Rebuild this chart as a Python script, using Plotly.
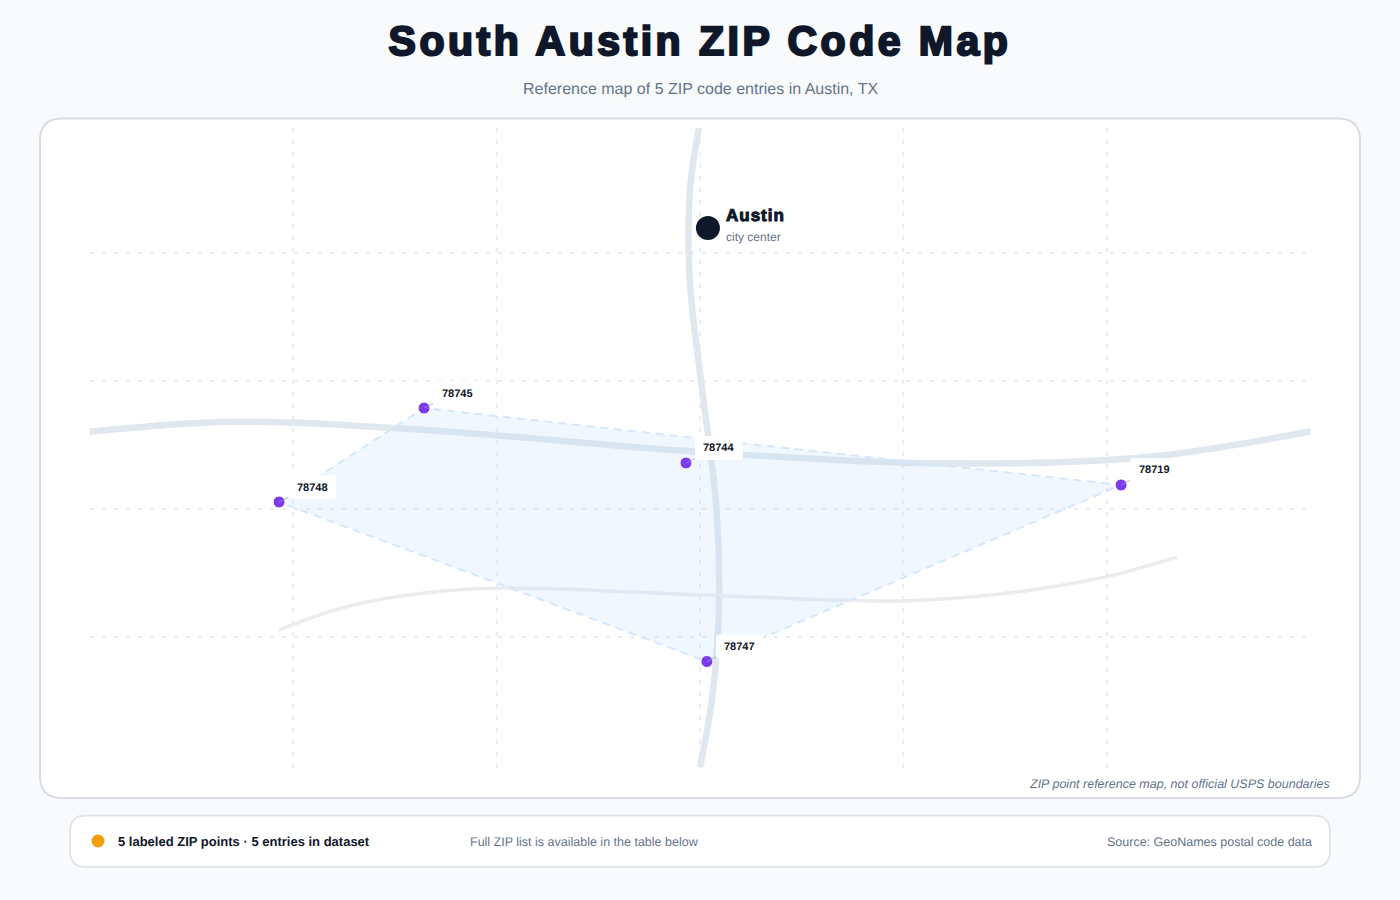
import plotly.graph_objects as go

W, H = 1400, 900

# Data, in map grid units (one unit per graticule cell)
zip_codes = ["78745", "78744", "78748", "78719", "78747"]
zip_x = [1.643, 2.931, 0.930, 5.071, 3.034]
zip_y = [2.188, 2.617, 2.922, 2.789, 4.168]

hull_order = ["78748", "78745", "78719", "78747", "78748"]

city_name = ["Austin"]
city_x = [3.039]
city_y = [0.781]

road_ns_x = [2.995, 2.950, 2.950, 3.015, 3.080, 3.093, 3.060, 3.000]
road_ns_y = [0.000, 0.500, 1.200, 2.100, 2.950, 3.750, 4.450, 4.992]

road_ew_x = [-0.010, 0.700, 1.643, 3.000, 4.200, 5.200, 6.010]
road_ew_y = [2.375, 2.295, 2.359, 2.531, 2.620, 2.570, 2.367]

road_s_x = [0.930, 1.300, 1.900, 3.000, 3.984, 4.476, 4.968, 5.346]
road_s_y = [3.922, 3.725, 3.600, 3.648, 3.695, 3.641, 3.516, 3.352]

grid_x = [1, 2, 3, 4, 5]
grid_y = [0.977, 1.977, 2.977, 3.977]

INK = "#0f172a"
MUTED = "#64748b"
FONT = "Liberation Sans, Arial, sans-serif"
PX, PY = lambda v: v / W, lambda v: 1 - v / H


def round_rect(x0, y0, x1, y1, r):
    """Rounded rectangle path in paper fractions, from page pixels."""
    pts = [("M", x0 + r, y0), ("L", x1 - r, y0), ("Q", x1, y0, x1, y0 + r), ("L", x1, y1 - r),
           ("Q", x1, y1, x1 - r, y1), ("L", x0 + r, y1), ("Q", x0, y1, x0, y1 - r),
           ("L", x0, y0 + r), ("Q", x0, y0, x0 + r, y0)]
    out = ""
    for p in pts:
        coords = p[1:]
        vals = [f"{PX(coords[i])},{PY(coords[i + 1])}" for i in range(0, len(coords), 2)]
        out += p[0] + " ".join(vals)
    return out + "Z"


fig = go.Figure()

lookup = dict(zip(zip_codes, zip(zip_x, zip_y)))
fig.add_trace(go.Scatter(x=road_ns_x, y=road_ns_y, mode="lines", cliponaxis=False, hoverinfo="skip",
                         line=dict(color="#e1e7ee", width=6.5, shape="spline"), name="North-south road"))
fig.add_trace(go.Scatter(x=road_ew_x, y=road_ew_y, mode="lines", cliponaxis=False, hoverinfo="skip",
                         line=dict(color="#e1e7ee", width=6.5, shape="spline"), name="East-west road"))
fig.add_trace(go.Scatter(x=road_s_x, y=road_s_y, mode="lines", cliponaxis=False, hoverinfo="skip",
                         line=dict(color="#ebecee", width=3.5, shape="spline"), name="Southern road"))
fig.add_trace(go.Scatter(x=[lookup[z][0] for z in hull_order], y=[lookup[z][1] for z in hull_order],
                         mode="lines", fill="toself", fillcolor="rgba(191,219,254,0.22)", hoverinfo="skip",
                         line=dict(color="#d6e7fd", width=2, dash="8px,6px"), name="ZIP area"))
fig.add_trace(go.Scatter(x=zip_x, y=zip_y, mode="markers", text=zip_codes, hoverinfo="text", cliponaxis=False,
                         marker=dict(size=12, color="#7c3aed", line=dict(color="#ffffff", width=1)), name="ZIP points"))
fig.add_trace(go.Scatter(x=city_x, y=city_y, mode="markers", text=city_name, hoverinfo="text",
                         marker=dict(size=24, color=INK, line=dict(width=0)), name="City"))

shapes = [
    dict(type="path", xref="paper", yref="paper", layer="below", path=round_rect(40, 118.5, 1360, 798, 22),
         fillcolor="#ffffff", line=dict(color="#d8dce3", width=2)),
    dict(type="path", xref="paper", yref="paper", layer="below", path=round_rect(70, 815.5, 1330, 867, 16),
         fillcolor="#ffffff", line=dict(color="#e2e6ec", width=2)),
    dict(type="circle", xref="paper", yref="paper", x0=PX(91.5), x1=PX(104.5), y0=PY(847.5), y1=PY(834.5),
         fillcolor="#f59e0b", line=dict(width=0)),
]

annotations = []
for z, x, y in zip(zip_codes, zip_x, zip_y):
    # white rounded plate behind the label, sized in pixels from the point
    shapes.append(dict(type="path", xref="x", yref="y", xsizemode="pixel", ysizemode="pixel",
                       xanchor=x, yanchor=y, layer="above", fillcolor="#ffffff", line=dict(width=0),
                       path="M13,3 L53,3 Q57,3 57,7 L57,23 Q57,27 53,27 L13,27 Q9,27 9,23 L9,7 Q9,3 13,3 Z"))
    shapes.append(dict(type="line", xref="x", yref="y", xsizemode="pixel", ysizemode="pixel",
                       xanchor=x, yanchor=y, x0=0, y0=0, x1=9, y1=4.5, layer="above",
                       line=dict(color="rgba(148,163,184,0.75)", width=1)))
    annotations.append(dict(x=x, y=y, xref="x", yref="y", text=z, showarrow=False, xshift=33, yshift=15.5,
                            xanchor="center", yanchor="middle",
                            font=dict(family=FONT, size=11, color=INK, weight="bold")))


def page_text(text, x, y, size, color, anchor="left", weight="normal", style="normal"):
    return dict(x=PX(x), y=PY(y), xref="paper", yref="paper", text=text, showarrow=False, xanchor=anchor,
                xshift={"left": -1, "right": 1, "center": 0}[anchor], borderpad=0,
                yanchor="middle", font=dict(family=FONT, size=size, color=color, weight=weight, style=style))


annotations += [
    page_text("Reference map of 5 ZIP code entries in Austin, TX", 700, 88.5, 16, MUTED, "center"),
    page_text("Austin", 729.5, 215.5, 17, INK, weight=900),
    page_text("city center", 726, 237.5, 12, MUTED),
    page_text("ZIP point reference map, not official USPS boundaries", 1329.5, 784, 12.5, MUTED, "right", style="italic"),
    page_text("5 labeled ZIP points · 5 entries in dataset", 118, 841.5, 13, INK, weight="bold"),
    page_text("Full ZIP list is available in the table below", 470, 841.5, 12.5, MUTED),
    page_text("Source: GeoNames postal code data", 1312, 841.5, 12.5, MUTED, "right"),
]

fig.update_layout(
    width=W, height=H, margin=dict(l=0, r=0, t=0, b=0), showlegend=False,
    paper_bgcolor="#f8fafc", plot_bgcolor="rgba(0,0,0,0)",
    title=dict(text="South Austin ZIP Code Map", x=0.5, xref="paper", xanchor="center", y=PY(41), yref="paper",
               yanchor="middle", font=dict(family=FONT, size=41, color=INK, weight=900)),
    xaxis=dict(domain=[PX(90), PX(1310)], range=[0, 6], tickvals=grid_x, showticklabels=False, ticks="",
               zeroline=False, showline=False, showgrid=True, gridcolor="#e9edf2", gridwidth=1.5, griddash="4px,8px"),
    yaxis=dict(domain=[PY(768), PY(128)], range=[5, 0], tickvals=grid_y, showticklabels=False, ticks="",
               zeroline=False, showline=False, showgrid=True, gridcolor="#e9edf2", gridwidth=2, griddash="4px,8px"),
    shapes=shapes, annotations=annotations,
)

post = """
document.body.style.margin='0';
document.documentElement.style.overflow='hidden';
var s=document.createElement('style');
s.textContent='svg text{text-rendering:geometricPrecision}.gtitle{letter-spacing:3.5px;stroke:#0f172a;stroke-width:2.2px}';
document.head.appendChild(s);
document.querySelectorAll('.annotation-text').forEach(function(t){
  if(t.textContent==='Austin'){t.style.stroke='#0f172a';t.style.strokeWidth='1px';t.style.letterSpacing='1px';}
});
"""
fig.write_html("out.html", post_script=post, config=dict(displayModeBar=False))
